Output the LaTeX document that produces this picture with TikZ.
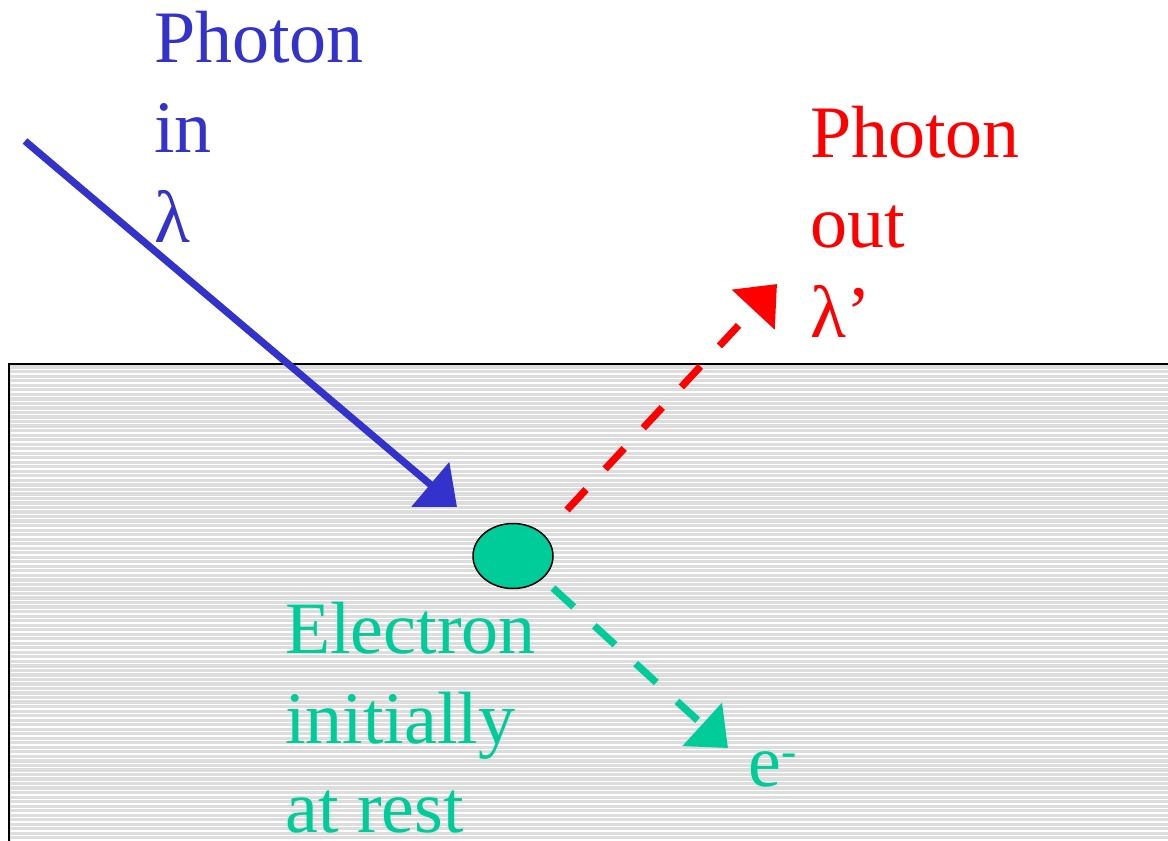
\documentclass[tikz,border=0pt]{standalone}
\usepackage{fontspec}
\setmainfont{Liberation Serif}
\usetikzlibrary{arrows.meta,shapes.geometric}
\definecolor{phblue}{RGB}{51,51,204}
\definecolor{phred}{RGB}{255,0,0}
\definecolor{elgreen}{RGB}{0,204,153}
\definecolor{bggray}{RGB}{221,221,221}
\tikzset{
  lbl/.style={anchor=base west, inner sep=0pt, font=\fontsize{74}{90}\selectfont},
  ray/.style={line width=7.2pt, -{Triangle[length=35pt,width=57pt]}},
  dashray/.style={ray, dash pattern=on 28pt off 28pt},
}
\begin{document}
\begin{tikzpicture}[x=1pt,y=-1pt]
\useasboundingbox (0,0) rectangle (1168,841);
% striped medium
\fill[bggray] (9,364) rectangle (1168,841);
\foreach \k in {0,...,104}{
  \pgfmathsetmacro{\yy}{369.5+4.525*\k}
  \draw[white, line width=1.3pt] (11,\yy) -- (1168,\yy);
}
\draw[black, line width=2.5pt] (1170,364) -- (9,364) -- (9,843);
% electron
\node[draw=black, line width=1.5pt, fill=elgreen, ellipse, minimum width=80pt, minimum height=65pt, inner sep=0pt] (electron) at (513,556) {};
% coordinates
\coordinate (bstart) at (25,141);
\coordinate (btip) at (457,507);
\coordinate (rstart) at (567,510);
\coordinate (rtip) at (777,284);
\coordinate (gstart) at (553,588);
\coordinate (gtip) at (728,748);
% rays
\draw[ray, phblue] (bstart) -- (btip);
\draw[dashray, phred] (rstart) -- (rtip);
\draw[dashray, elgreen] (gstart) -- (gtip);
% labels
\node[lbl, text=phblue] (in1) at (154,62) {Photon};
\node[lbl, text=phblue] (in2) at (154,152) {in};
\node[lbl, text=phblue] (in3) at (154,242) {λ};
\node[lbl, text=phred] (out1) at (810,157) {Photon};
\node[lbl, text=phred] (out2) at (810,247) {out};
\node[lbl, text=phred] (out3) at (810,337) {λ’};
\node[lbl, text=elgreen] (el1) at (285,653) {Electron};
\node[lbl, text=elgreen] (el2) at (285,743) {initially};
\node[lbl, text=elgreen] (el3) at (285,832) {at rest};
\node[lbl, text=elgreen] (eminus) at (748,786) {e\raisebox{20pt}{\fontsize{46}{46}\selectfont -}};
\end{tikzpicture}
\end{document}
